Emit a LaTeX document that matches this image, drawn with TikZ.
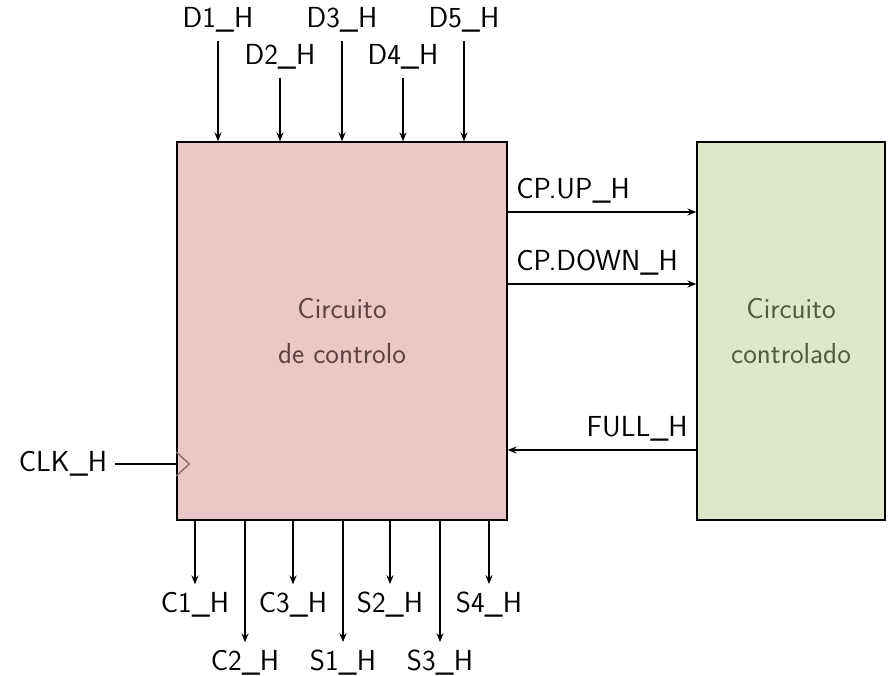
\documentclass[tikz,border=0pt]{standalone}
\usetikzlibrary{arrows.meta}
\definecolor{ctrlfill}{HTML}{EBC7C7}
\definecolor{ctrltext}{HTML}{5E4242}
\definecolor{plantfill}{HTML}{DFE7C9}
\definecolor{planttext}{HTML}{505A3C}
\definecolor{clkcol}{HTML}{8E6A6A}
\tikzset{
  sig/.style={line width=0.8pt, -{Stealth[length=5pt,width=4pt]}},
  block/.style={draw, line width=0.8pt, align=center, font=\fontsize{16.5}{25.5}\sffamily},
}
\begin{document}
\begin{tikzpicture}[font=\fontsize{16.5}{19}\sffamily, inner sep=4.5pt]
\useasboundingbox (0,0) rectangle (17.78,13.52);
\node[block, fill=ctrlfill, text=ctrltext, minimum width=6.6cm, minimum height=7.56cm] (ctrl) at (6.84,6.90) {Circuito\\de controlo};
\node[block, fill=plantfill, text=planttext, minimum width=3.76cm, minimum height=7.56cm] (plant) at (15.82,6.90) {Circuito\\controlado};
% entradas de dados
\node (d1) at (4.36,13.12) {D1\_H};
\node (d2) at (5.60,12.38) {D2\_H};
\node (d3) at (6.84,13.12) {D3\_H};
\node (d4) at (8.06,12.38) {D4\_H};
\node (d5) at (9.28,13.12) {D5\_H};
\foreach \n in {d1,d2,d3,d4,d5}
  \draw[sig] (\n.south) -- (\n.south |- ctrl.north);
% saidas
\node (c1) at (3.90,1.42) {C1\_H};
\node (c2) at (4.90,0.26) {C2\_H};
\node (c3) at (5.86,1.42) {C3\_H};
\node (s1) at (6.86,0.26) {S1\_H};
\node (s2) at (7.80,1.42) {S2\_H};
\node (s3) at (8.80,0.26) {S3\_H};
\node (s4) at (9.78,1.42) {S4\_H};
\foreach \n in {c1,c2,c3,s1,s2,s3,s4}
  \draw[sig] (\n.north |- ctrl.south) -- (\n.north);
% ligacoes entre blocos
\draw[sig] ([yshift=2.38cm]ctrl.east) -- ([yshift=2.38cm]plant.west) node[pos=0, anchor=south west] {CP.UP\_H};
\draw[sig] ([yshift=0.94cm]ctrl.east) -- ([yshift=0.94cm]plant.west) node[pos=0, anchor=south west] {CP.DOWN\_H};
\draw[sig] ([yshift=-2.38cm]plant.west) -- ([yshift=-2.38cm]ctrl.west -| ctrl.east) node[pos=0, anchor=south east] {FULL\_H};
% relogio
\node (clk) at (1.26,4.24) {CLK\_H};
\coordinate (ck) at (ctrl.west |- clk);
\draw[line width=0.8pt] (clk) -- (ck);
\draw[clkcol, line width=0.8pt] ([yshift=0.24cm]ck) -- ++(0.26,-0.24) -- ++(-0.26,-0.24);
\end{tikzpicture}
\end{document}
